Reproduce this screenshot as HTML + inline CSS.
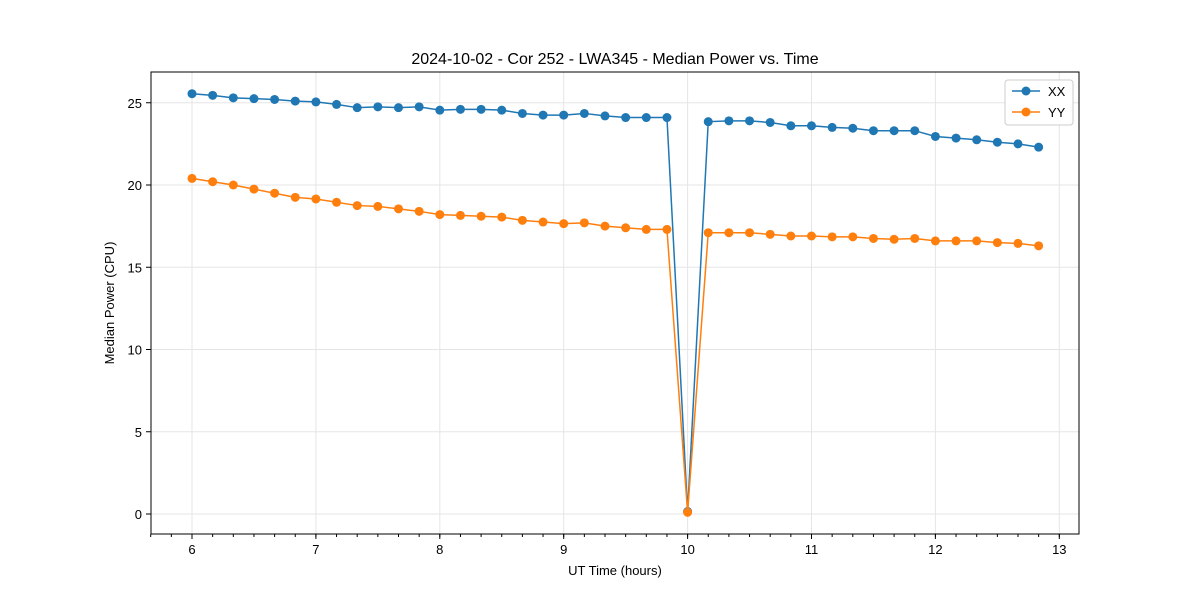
<!DOCTYPE html>
<html><head><meta charset="utf-8"><style>body{margin:0;background:#fff}svg text{font-family:"Liberation Sans","DejaVu Sans",sans-serif;fill:#000}</style></head>
<body>
<svg id="chart" width="1200" height="600" xmlns="http://www.w3.org/2000/svg">
<rect width="1200" height="600" fill="#fff"/>
<g id="grid"></g><g id="axes"></g><g id="series"></g>
<text x="615" y="64" font-size="16" text-anchor="middle">2024-10-02 - Cor 252 - LWA345 - Median Power vs. Time</text>
<text x="615" y="575" font-size="13" text-anchor="middle">UT Time (hours)</text>
<text x="114" y="303" font-size="13" text-anchor="middle" transform="rotate(-90 114 303)">Median Power (CPU)</text>
<g>
<rect x="1005" y="80" width="68" height="45" rx="3" fill="#fff" stroke="#ccc"/>
<line x1="1012" y1="91" x2="1040" y2="91" stroke="#1f77b4" stroke-width="1.5"/><circle cx="1026" cy="91" r="4.5" fill="#1f77b4"/>
<text x="1048" y="96" font-size="13">XX</text>
<line x1="1012" y1="112" x2="1040" y2="112" stroke="#ff7f0e" stroke-width="1.5"/><circle cx="1026" cy="112" r="4.5" fill="#ff7f0e"/>
<text x="1048" y="117" font-size="13">YY</text>
</g>
</svg>
<script>
const xxValues=[25.55,25.45,25.3,25.25,25.2,25.1,25.05,24.9,24.7,24.75,24.7,24.75,24.55,24.6,24.6,24.55,24.35,24.25,24.25,24.35,24.2,24.1,24.1,24.1,0.15,23.85,23.9,23.9,23.8,23.6,23.6,23.5,23.45,23.3,23.3,23.3,22.95,22.85,22.75,22.6,22.5,22.3];
const yyValues=[20.4,20.2,20.0,19.75,19.5,19.25,19.15,18.95,18.75,18.7,18.55,18.4,18.2,18.15,18.1,18.05,17.85,17.75,17.65,17.7,17.5,17.4,17.3,17.3,0.1,17.1,17.1,17.1,17.0,16.9,16.9,16.85,16.85,16.75,16.7,16.75,16.6,16.6,16.6,16.5,16.45,16.3];
const startHour=6, stepHours=1/6;
const xTicks=[6,7,8,9,10,11,12,13];
const yTicks=[0,5,10,15,20,25];
const NS="http://www.w3.org/2000/svg";
const L=151,R=1079,T=72,B=534;
const xs=h=>192+(h-6)*123.9;
const ys=v=>514-v*16.45;
function mk(tag,attrs,parent){const e=document.createElementNS(NS,tag);for(const k in attrs)e.setAttribute(k,attrs[k]);parent.appendChild(e);return e;}
const grid=document.getElementById('grid'),axes=document.getElementById('axes'),series=document.getElementById('series');
xTicks.forEach(t=>{const x=xs(t);
 const g=mk('line',{x1:x,x2:x,y1:T,y2:B,stroke:'#e5e5e5','stroke-width':1},grid);
 
 
 mk('line',{x1:x,x2:x,y1:B,y2:B+5,stroke:'#000'},axes);
 const tx=mk('text',{x:x,y:B+20,'font-size':13,'text-anchor':'middle'},axes);tx.textContent=t;
 
 });
for(let h=5+4/6;h<13.15;h+=1/6){const x=xs(h);if(x>=L-0.5&&x<=R)mk('line',{x1:x,x2:x,y1:B,y2:B+3,stroke:'#000'},axes);}
yTicks.forEach(t=>{const y=ys(t);
 const g=mk('line',{x1:L,x2:R,y1:y,y2:y,stroke:'#e5e5e5','stroke-width':1},grid);
 
 
 mk('line',{x1:L-5,x2:L,y1:y,y2:y,stroke:'#000'},axes);
 const tx=mk('text',{x:L-9,y:y+5,'font-size':13,'text-anchor':'end'},axes);tx.textContent=t;
 
 });
const frame=mk('rect',{x:L,y:T,width:R-L,height:B-T,fill:'none',stroke:'#000','stroke-width':1},axes);


function draw(vals,color,name){
 const pts=vals.map((v,i)=>[xs(startHour+i*stepHours),ys(v)]);
 const p=mk('polyline',{points:pts.map(p=>p.join(',')).join(' '),fill:'none',stroke:color,'stroke-width':1.5},series);
 
 
 pts.forEach(q=>{const c=mk('circle',{cx:q[0],cy:q[1],r:4.5,fill:color},series);
  
  });
}
draw(xxValues,'#1f77b4','xx');
draw(yyValues,'#ff7f0e','yy');
</script>
</body></html>
